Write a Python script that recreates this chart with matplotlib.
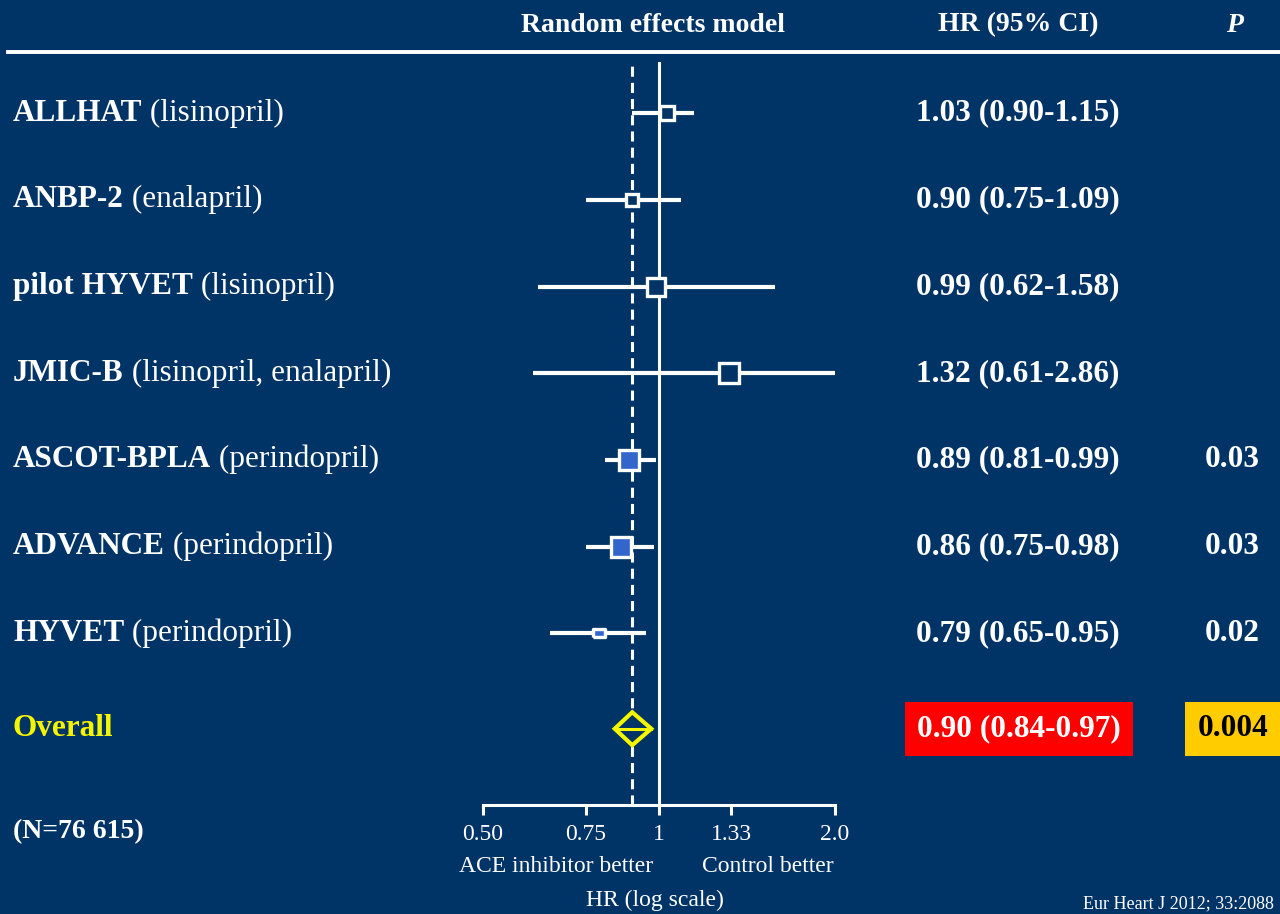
import numpy as np
import matplotlib
matplotlib.use("Agg")
import matplotlib.pyplot as plt
from matplotlib.lines import Line2D
from matplotlib.ticker import NullLocator
import matplotlib.transforms as mtransforms

plt.rcParams['font.family'] = ['Liberation Serif', 'DejaVu Serif']

BG = "#003366"
BLUE = "#3366CC"
YELLOW = "#F5F500"

# data
studies = ["ALLHAT", "ANBP-2", "pilot HYVET", "JMIC-B", "ASCOT-BPLA", "ADVANCE", "HYVET"]
drugs = ["(lisinopril)", "(enalapril)", "(lisinopril)", "(lisinopril, enalapril)",
         "(perindopril)", "(perindopril)", "(perindopril)"]
hr = [1.03, 0.90, 0.99, 1.32, 0.89, 0.86, 0.79]
lo = [0.90, 0.75, 0.62, 0.61, 0.81, 0.75, 0.65]
hi = [1.15, 1.09, 1.58, 2.86, 0.99, 0.98, 0.95]
pvals = ["", "", "", "", "0.03", "0.03", "0.02"]
overall_hr, overall_lo, overall_hi = 0.90, 0.84, 0.97
overall_p = "0.004"
n_total = "76 615"
ticks = [0.50, 0.75, 1, 1.33, 2.0]
tick_labels = ["0.50", "0.75", "1", "1.33", "2.0"]

# styling of the boxes
box_pt = [10, 8.5, 13, 14, 14, 14, 9]
box_fill = [BG, BG, BG, BG, BLUE, BLUE, BLUE]

W, H = 1280, 914
fig = plt.figure(figsize=(W / 100, H / 100), dpi=100, facecolor=BG)

def fx(x):
    return x / W

def fy(y):
    return 1 - y / H

ax = fig.add_axes([fx(483), fy(805), fx(835) - fx(483), fy(62) - fy(805)])
ax.set_facecolor(BG)
ax.set_xscale('log')
ax.set_xlim(0.5, 2.0)
ax.set_ylim(7.98, -0.59)
rows = np.arange(len(studies))
overall_row = 7.1

for s in ['top', 'left', 'right']:
    ax.spines[s].set_visible(False)
ax.spines['bottom'].set_color('white')
ax.spines['bottom'].set_linewidth(2.2)
ax.set_yticks([])
ax.set_xticks(ticks)
ax.set_xticklabels(tick_labels)
ax.xaxis.set_minor_locator(NullLocator())
ax.tick_params(axis='x', direction='out', length=7.5, width=2.2, color='white',
               labelcolor='white', labelsize=17, pad=6)

ax.axvline(1, color='white', lw=2.2, zorder=1)
ax.axvline(overall_hr, color='white', lw=2.2, dashes=(3.3, 2), zorder=1)

ax.hlines(rows, lo, hi, color='white', lw=3, zorder=2)
rect = [(-1.4, -1), (1.4, -1), (1.4, 1), (-1.4, 1), (-1.4, -1)]
for i in rows:
    mk = rect if i == len(studies) - 1 else 's'
    ax.plot(hr[i], rows[i], marker=mk, ms=box_pt[i], mfc=box_fill[i],
            mec='white', mew=2.4, zorder=3)

h = 0.19
ax.fill([overall_lo, overall_hr, overall_hi, overall_hr],
        [overall_row, overall_row - h, overall_row, overall_row + h],
        fc=BG, ec=YELLOW, lw=3, zorder=4, joinstyle='miter')
ax.plot([overall_lo, overall_hi], [overall_row, overall_row], color=YELLOW, lw=2.2, zorder=5)

trans = mtransforms.blended_transform_factory(fig.transFigure, ax.transData)
FS = 22.5
for i in rows:
    t = fig.text(fx(13), rows[i], studies[i], transform=trans, color='white',
                 fontweight='bold', fontsize=FS, va='center', ha='left')
    ax.annotate(" " + drugs[i], xy=(1, 0), xycoords=t, va='bottom', ha='left',
                color='white', fontsize=FS)
    fig.text(fx(1018), rows[i], f"{hr[i]:.2f} ({lo[i]:.2f}-{hi[i]:.2f})", transform=trans,
             color='white', fontweight='bold', fontsize=FS, va='center', ha='center')
    if pvals[i]:
        fig.text(fx(1232), rows[i], pvals[i], transform=trans, color='white',
                 fontweight='bold', fontsize=FS, va='center', ha='center')

fig.text(fx(13), overall_row, "Overall", transform=trans, color=YELLOW,
         fontweight='bold', fontsize=FS, va='center', ha='left')
fig.text(fx(1019), overall_row, f"{overall_hr:.2f} ({overall_lo:.2f}-{overall_hi:.2f})",
         transform=trans, color='white', fontweight='bold', fontsize=FS, va='center',
         ha='center', bbox=dict(boxstyle='square,pad=0.4', fc='#FF0000', ec='none'))
fig.text(fx(1233), overall_row, overall_p, transform=trans, color='black',
         fontweight='bold', fontsize=FS, va='center', ha='center',
         bbox=dict(boxstyle='square,pad=0.4', fc='#FFCC00', ec='none'))

# header
fig.text(fx(653), fy(25), "Random effects model", color='white', fontweight='bold',
         fontsize=20, ha='center', va='center')
fig.text(fx(1018), fy(25), "HR (95% CI)", color='white', fontweight='bold',
         fontsize=20, ha='center', va='center')
fig.text(fx(1235), fy(25), "P", color='white', fontweight='bold', style='italic',
         fontsize=20, ha='center', va='center')
fig.add_artist(Line2D([fx(8), 1], [fy(52), fy(52)], transform=fig.transFigure,
                      color='white', lw=2.8))

fig.text(fx(13), fy(832), f"(N={n_total})", color='white', fontweight='bold',
         fontsize=20, ha='left', va='center')
fig.text(fx(556), fy(866), "ACE inhibitor better", color='white', fontsize=17,
         ha='center', va='center')
fig.text(fx(768), fy(866), "Control better", color='white', fontsize=17,
         ha='center', va='center')
fig.text(fx(655), fy(900), "HR (log scale)", color='white', fontsize=17,
         ha='center', va='center')
fig.text(fx(1274), fy(912), "Eur Heart J 2012; 33:2088", color='white', fontsize=13,
         ha='right', va='bottom')

fig.savefig("out.png", dpi=100, facecolor=BG)
